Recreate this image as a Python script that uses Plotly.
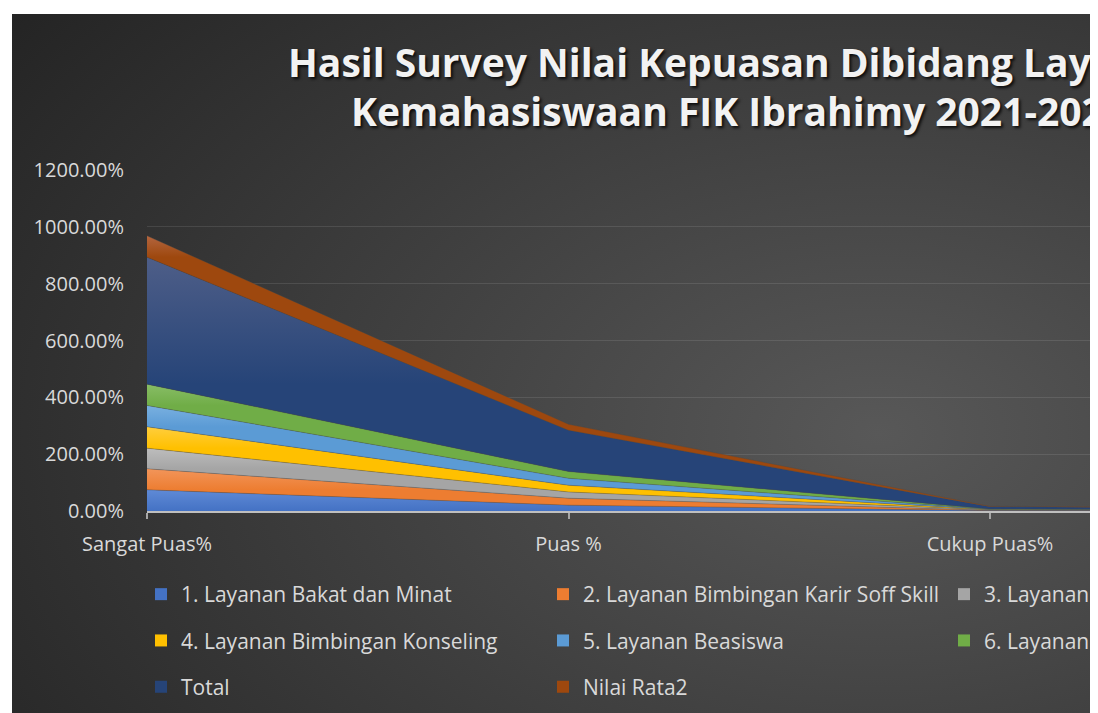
import urllib.parse
import plotly.graph_objects as go

# ---------------- data ----------------
categories = ["Sangat Puas%", "Puas %", "Cukup Puas%", "Kurang Puas%"]

series_names = [
    "1. Layanan Bakat dan Minat",
    "2. Layanan Bimbingan Karir Soff Skill",
    "3. Layanan Kesejahteraan Mahasiswa",
    "4. Layanan Bimbingan Konseling",
    "5. Layanan Beasiswa",
    "6. Layanan Kesehatan Mahasiswa",
    "Total",
    "Nilai Rata2",
]

layanan_1 = [74.6, 20.5, 1.5, 1.0]
layanan_2 = [73.9, 24.5, 1.0, 0.5]
layanan_3 = [72.5, 22.0, 1.5, 1.0]
layanan_4 = [75.3, 23.5, 1.0, 0.5]
layanan_5 = [75.0, 24.5, 1.0, 0.5]
layanan_6 = [75.0, 24.0, 1.0, 0.5]
total = [447.0, 145.0, 8.0, 4.5]
nilai_rata2 = [75.0, 21.0, 1.5, 0.8]

series_values = [layanan_1, layanan_2, layanan_3, layanan_4,
                 layanan_5, layanan_6, total, nilai_rata2]

y_ticks = [0, 200, 400, 600, 800, 1000, 1200]
y_tick_labels = ["%.2f%%" % v for v in y_ticks]

# ---------------- styling ----------------
base_colors = ["#4472C4", "#ED7D31", "#A5A5A5", "#FFC000",
               "#5B9BD5", "#70AD47", "#264478", "#9E480E"]
light_colors = ["#5F8AD6", "#F2955A", "#BDBDBD", "#FFCE3D",
                "#79B0E0", "#88BD66", "#4E5E88", "#B3653F"]

OFF = 8                      # page (body) offset of the figure
W, H = 1094 - OFF, 713 - OFF  # figure ends where the dark chart box ends
ML = 147 - OFF
MT = 170 - OFF
PB = 511 - OFF               # bottom of plot area (figure px)
MR = 0
MB = H - PB
PW = W - ML - MR
PH = PB - MT
CAT_STEP = 421.5             # pixel distance between categories


def xp(rx):
    """reference x pixel -> paper coordinate"""
    return (rx - OFF - ML) / PW


def yp(ry):
    """reference y pixel -> paper coordinate"""
    return (PB - (ry - OFF)) / PH


FONT = "Open Sans"
TXT = "#D9D9D9"

fig = go.Figure()

cum = [0.0] * len(categories)
for i, (name, vals) in enumerate(zip(series_names, series_values)):
    lo = cum[0]
    cum = [c + v for c, v in zip(cum, vals)]
    hi = cum[0]
    fig.add_trace(go.Scatter(
        x=categories, y=vals, name=name, stackgroup="one", mode="lines",
        line=dict(width=0.6, color="rgba(70,70,70,0.55)"),
        fillgradient=dict(type="vertical", start=lo, stop=hi,
                          colorscale=[[0, base_colors[i]], [1, light_colors[i]]]),
        showlegend=False, hoverinfo="skip",
    ))

legend_of = ["legend", "legend2", "legend3", "legend",
             "legend2", "legend3", "legend", "legend2"]
for i, name in enumerate(series_names):
    fig.add_trace(go.Scatter(
        x=[None], y=[None], mode="markers", name=name,
        marker=dict(symbol="square", size=12, color=base_colors[i],
                    line=dict(width=0)),
        legend=legend_of[i], legendgroup="g%d" % i, showlegend=True,
    ))

legend_common = dict(
    orientation="v", xanchor="left", yanchor="top",
    font=dict(family=FONT, size=21, color=TXT),
    bgcolor="rgba(0,0,0,0)", tracegroupgap=16, itemwidth=30,
    indentation=-8,
)
fig.update_layout(
    legend=dict(x=xp(149), y=yp(574), **legend_common),
    legend2=dict(x=xp(551), y=yp(574), **legend_common),
    legend3=dict(x=xp(952), y=yp(574), **legend_common),
)

# background gradient (Excel dark style)
svg = (
    "<svg xmlns='http://www.w3.org/2000/svg' width='1082' height='699' "
    "preserveAspectRatio='none'>"
    "<defs><radialGradient id='g' cx='0.8' cy='0.6' r='1.0' "
    "gradientUnits='objectBoundingBox'>"
    "<stop offset='0' stop-color='#585858'/>"
    "<stop offset='1' stop-color='#242424'/>"
    "</radialGradient></defs>"
    "<rect width='1082' height='699' fill='url(#g)'/></svg>"
)
src = "data:image/svg+xml;charset=utf-8," + urllib.parse.quote(svg)
fig.add_layout_image(dict(
    source=src, xref="paper", yref="paper",
    x=xp(12), y=yp(14), sizex=(1094 - 12) / PW, sizey=(713 - 14) / PH,
    xanchor="left", yanchor="top", sizing="stretch", layer="below",
))

title_font = dict(family=FONT, size=39, color="#F2F2F2", weight="bold",
                  shadow="2px 2px 3px rgba(0,0,0,0.8)")
fig.add_annotation(text="Hasil Survey Nilai Kepuasan Dibidang Layanan",
                   xref="paper", yref="paper", x=xp(738), y=yp(61),
                   xanchor="center", yanchor="middle", showarrow=False,
                   font=title_font)
fig.add_annotation(text="Kemahasiswaan FIK Ibrahimy 2021-2022",
                   xref="paper", yref="paper", x=xp(738), y=yp(111),
                   xanchor="center", yanchor="middle", showarrow=False,
                   font=title_font)

fig.update_layout(
    width=W, height=H,
    margin=dict(l=ML, r=MR, t=MT, b=MB, autoexpand=False),
    paper_bgcolor="white", plot_bgcolor="rgba(0,0,0,0)",
    showlegend=True,
    xaxis=dict(
        type="category", categoryorder="array", categoryarray=categories,
        range=[0, PW / CAT_STEP], showgrid=False, zeroline=False,
        showline=True, linecolor="#BFBFBF", linewidth=1.5,
        ticks="outside", ticklen=6, tickwidth=1.5, tickcolor="#A6A6A6",
        tickfont=dict(family=FONT, size=20, color=TXT),
        ticklabelstandoff=8,
    ),
    yaxis=dict(
        range=[0, 1200], tickvals=y_ticks, ticktext=y_tick_labels,
        showgrid=True, gridcolor="rgba(255,255,255,0.10)", gridwidth=1,
        zeroline=False, showline=False, ticks="",
        tickfont=dict(family=FONT, size=20, color=TXT),
        ticklabelstandoff=22,
    ),
)

fig.write_html("out.html")
